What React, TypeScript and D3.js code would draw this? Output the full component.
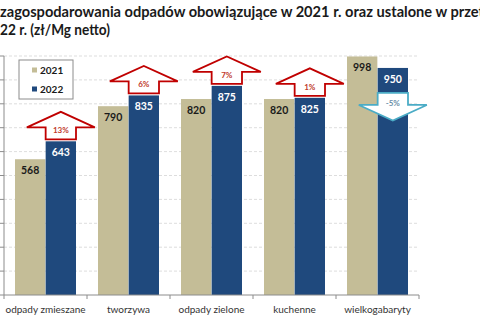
import React from "react";
import * as d3 from "d3";

const categories = ["odpady zmieszane", "tworzywa", "odpady zielone", "kuchenne", "wielkogabaryty"];
const years = ["2021", "2022"];
const values2021 = [568, 790, 820, 820, 998];
const values2022 = [643, 835, 875, 825, 950];
const titleLines = [
  "zagospodarowania odpadów obowiązujące w 2021 r. oraz ustalone w przet",
  "22 r. (zł/Mg netto)",
];
const yTicks = [0, 100, 200, 300, 400, 500, 600, 700, 800, 900, 1000];

const W = 480;
const H = 320;
const FONT = "Lato, 'Open Sans', sans-serif";
const TAN = "#c4bd97";
const BLUE = "#1f497d";
const UP = "#c00000";
const DOWN = "#4bacc6";

export default function App() {
  const x = d3.scaleBand<string>().domain(categories).range([4, 419]).padding(0);
  const inner = d3.scaleBand<string>().domain(years).range([11, 72]).paddingInner(0.01);
  const y = d3.scaleLinear().domain([0, 1000]).range([295, 56]);
  const series = [values2021, values2022];
  const colors = [TAN, BLUE];
  const labelColors = ["#1a1a1a", "#ffffff"];
  const bw = inner.bandwidth();

  const arrows = categories.map((c, i) => {
    const a = values2021[i];
    const b = values2022[i];
    const pct = Math.round(((b - a) / a) * 100);
    const cx = (x(c) as number) + (inner("2022") as number) + bw / 2;
    const top = y(b);
    const sw = bw / 2;
    const hw = 34;
    const up = pct >= 0;
    const dir = up ? -1 : 1;
    const y0 = up ? top - 2 : top + 25;
    const y1 = y0 + dir * 12;
    const y2 = y1 + dir * 15.5;
    const p = d3.path();
    p.moveTo(cx - sw, y0);
    p.lineTo(cx - sw, y1);
    p.lineTo(cx - hw, y1);
    p.lineTo(cx, y2);
    p.lineTo(cx + hw, y1);
    p.lineTo(cx + sw, y1);
    p.lineTo(cx + sw, y0);
    p.closePath();
    return {
      d: p.toString(),
      color: up ? UP : DOWN,
      text: `${pct}%`,
      tx: cx,
      ty: up ? y0 - 9 : y0 + 10,
      textColor: up ? "#c0392b" : "#6a8fa8",
    };
  });

  const xEdges = [...categories.map((c) => x(c) as number), 419];

  return (
    <svg
      width={W}
      height={H}
      style={{ position: "absolute", left: 0, top: 0, background: "#fff" }}
      fontFamily={FONT}
    >
      <rect width={W} height={H} fill="#fff" />
      {/* title */}
      <text x={0} y={17} fontSize={14.5} fontWeight="bold" fill="#1a1a1a" textLength={484} lengthAdjust="spacingAndGlyphs">
        {titleLines[0]}
      </text>
      <text x={0} y={35} fontSize={14.5} fontWeight="bold" fill="#1a1a1a" textLength={110} lengthAdjust="spacingAndGlyphs">
        {titleLines[1]}
      </text>

      {/* gridlines */}
      {yTicks.slice(1).map((t) => (
        <line key={t} x1={4} x2={419} y1={y(t)} y2={y(t)} stroke="#d4d4d4" strokeDasharray="3,2" strokeWidth={0.8} />
      ))}

      {/* y axis */}
      <line x1={4} x2={4} y1={y(1000)} y2={y(0)} stroke="#8c8c8c" />
      {yTicks.map((t) => (
        <line key={t} x1={0} x2={4} y1={y(t)} y2={y(t)} stroke="#8c8c8c" />
      ))}

      {/* bars */}
      {categories.map((c, i) => (
        <g key={c} transform={`translate(${x(c)},0)`}>
          {years.map((yr, k) => (
            <rect
              key={yr}
              x={inner(yr)}
              y={y(series[k][i])}
              width={bw}
              height={y(0) - y(series[k][i])}
              fill={colors[k]}
            />
          ))}
          {years.map((yr, k) => (
            <text
              key={yr}
              x={(inner(yr) as number) + bw / 2}
              y={y(series[k][i]) + 11}
              textAnchor="middle"
              dominantBaseline="central"
              fontSize={10.5}
              fontWeight="bold"
              fill={labelColors[k]}
            >
              {series[k][i]}
            </text>
          ))}
        </g>
      ))}

      {/* x axis */}
      <line x1={4} x2={419} y1={y(0)} y2={y(0)} stroke="#8c8c8c" />
      {xEdges.map((e, i) => (
        <line key={i} x1={e} x2={e} y1={y(0)} y2={y(0) + 4} stroke="#8c8c8c" />
      ))}
      {categories.map((c) => (
        <text
          key={c}
          x={(x(c) as number) + x.bandwidth() / 2}
          y={309}
          textAnchor="middle"
          dominantBaseline="central"
          fontSize={10}
          fill="#333"
        >
          {c}
        </text>
      ))}

      {/* change arrows */}
      {arrows.map((a, i) => (
        <g key={i}>
          <path d={a.d} fill="#fff" stroke={a.color} strokeWidth={1.8} strokeLinejoin="miter" />
          <text
            x={a.tx}
            y={a.ty}
            textAnchor="middle"
            dominantBaseline="central"
            fontSize={8}
            fontWeight="bold"
            fill={a.textColor}
          >
            {a.text}
          </text>
        </g>
      ))}

      {/* legend */}
      <rect x={19} y={60} width={54} height={39} fill="#fff" stroke="#8c8c8c" strokeWidth={1} />
      {years.map((yr, k) => (
        <g key={yr} transform={`translate(32,${70 + k * 19})`}>
          <rect x={0} y={-2.5} width={5} height={5} fill={colors[k]} />
          <text x={8} y={0} dominantBaseline="central" fontSize={10} fontWeight="bold" fill="#1a1a1a">
            {yr}
          </text>
        </g>
      ))}
    </svg>
  );
}
